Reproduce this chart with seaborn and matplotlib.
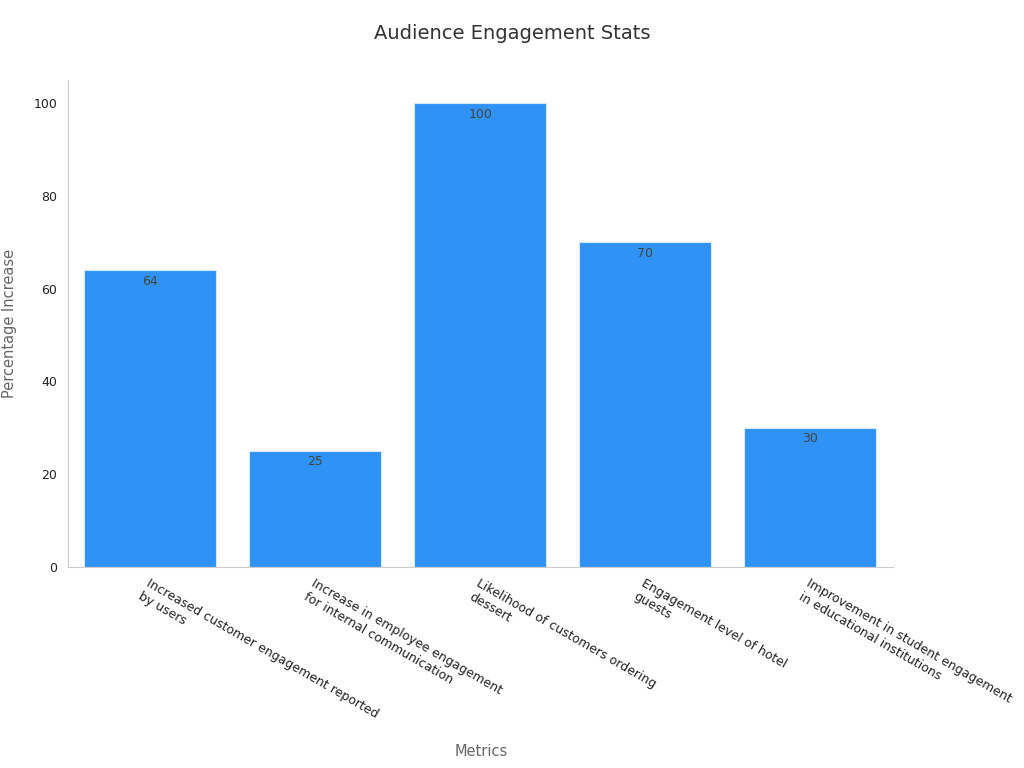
import matplotlib
matplotlib.use("Agg")
import matplotlib.pyplot as plt
import seaborn as sns
import pandas as pd

categories = ["Increased customer engagement reported\nby users",
              "Increase in employee engagement\nfor internal communication",
              "Likelihood of customers ordering\ndessert",
              "Engagement level of hotel\nguests",
              "Improvement in student engagement\nin educational institutions"]
values = [64, 25, 100, 70, 30]

df = pd.DataFrame({"Metrics": categories, "Percentage Increase": values})
sns.set_style("white")
fig = plt.figure(figsize=(10.24, 7.68), dpi=100)
ax = fig.add_axes([0.066, 0.262, 0.806, 0.634])
sns.barplot(data=df, x="Metrics", y="Percentage Increase", color="#2E93F5",
            saturation=1, width=0.8, edgecolor="#d8e8f8", linewidth=0.8, ax=ax)
ax.set_ylim(0, 105)
for i, v in enumerate(values):
    ax.text(i, v - 1, str(v), ha="center", va="top", fontsize=9, color="#444444")
fig.text(0.5, 0.957, "Audience Engagement Stats", ha="center", va="center",
         fontsize=14, color="#333333")
ax.set_xlabel("")
fig.text(0.47, 0.022, "Metrics", ha="center", va="center", fontsize=10.5, color="#666666")
ax.set_ylabel("Percentage Increase", fontsize=10.5, color="#666666", labelpad=12)
ax.set_xticks(range(len(categories)))
ax.set_xticklabels(categories, rotation=-30, ha="left", rotation_mode="anchor",
                   fontsize=9, color="#222222")
ax.tick_params(axis="both", length=4, color="#999999", labelsize=9)
ax.tick_params(axis="y", labelcolor="#222222")
for s in ["top", "right"]:
    ax.spines[s].set_visible(False)
for s in ["left", "bottom"]:
    ax.spines[s].set_color("#cccccc")
fig.savefig("out.png", dpi=100)
